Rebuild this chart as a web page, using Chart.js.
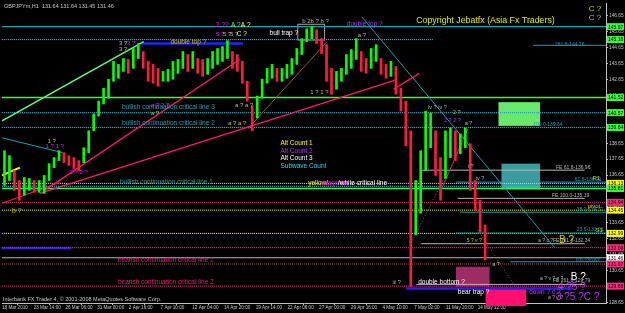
<!DOCTYPE html>
<html>
<head>
<meta charset="utf-8">
<script src="https://cdn.jsdelivr.net/npm/chart.js@4/dist/chart.umd.min.js"></script>
<style>
  html, body { margin: 0; padding: 0; background: #000; }
  #wrap { width: 625px; height: 313px; }
</style>
</head>
<body>
<div id="wrap"><canvas id="chart" width="625" height="313"></canvas></div>
<script>
/* --------------- Time axis (H1 bars) --------------------- */
const timeLabels = ['18 Mar 2010', '23 Mar 14:00', '26 Mar 06:00', '31 Mar 00:00', '2 Apr 16:00',
  '7 Apr 10:00', '12 Apr 04:00', '14 Apr 20:00', '19 Apr 14:00', '22 Apr 06:00', '27 Apr 00:00',
  '29 Apr 16:00', '4 May 10:00', '7 May 02:00', '11 May 20:00', '14 May 12:00'];
const barsPerLabel = 64;
const lastBar = 1219;

/* --------------- Price axis --------------------- */
const priceTicks = [128.65, 129.65, 130.65, 131.65, 132.65, 133.65, 134.65, 135.65, 136.65,
  137.65, 138.65, 139.65, 140.65, 141.65, 142.65, 143.65, 144.65, 145.65, 146.65];
const priceMin = 128.62;
const priceMax = 147.40;

/* --------------- GBPJPY bars, one per 10 hours: low / high --------------------- */
const candleLow = [136.00, 136.31, 135.69, 135.07, 135.38, 135.69, 135.57, 135.57, 135.50, 136.31,
  137.12, 137.56, 137.43, 137.25, 137.06, 136.94, 137.43, 138.06, 139.43, 140.36,
  141.11, 141.48, 142.54, 142.73, 143.16, 143.04, 143.35, 143.97, 143.35, 142.54,
  142.42, 142.23, 142.54, 142.54, 142.67, 143.04, 143.35, 143.16, 143.35, 143.04,
  142.85, 142.98, 143.35, 143.60, 143.79, 143.97, 143.35, 143.16, 142.42, 141.30,
  139.43, 140.24, 141.48, 142.42, 142.73, 142.54, 142.54, 142.73, 142.98, 143.60,
  144.22, 145.03, 145.22, 144.91, 144.28, 142.54, 141.73, 142.04, 142.54, 142.98,
  143.35, 143.91, 143.16, 143.04, 143.35, 143.79, 142.98, 142.73, 142.85, 141.73,
  140.67, 138.49, 129.65, 132.89, 134.26, 136.94, 138.37, 136.63, 135.07, 136.44,
  137.75, 137.56, 137.99, 138.37, 135.69, 134.45, 133.08, 131.33];
const candleHigh = [138.18, 137.87, 136.94, 136.31, 136.50, 136.44, 136.31, 136.31, 136.63, 137.37,
  137.75, 138.18, 138.06, 137.87, 137.75, 137.56, 138.37, 139.43, 140.49, 141.30,
  142.10, 142.67, 143.79, 143.60, 143.97, 143.91, 144.60, 144.91, 144.41, 143.79,
  143.60, 143.35, 143.16, 143.29, 143.79, 143.91, 144.41, 144.22, 144.41, 143.97,
  143.91, 143.97, 144.41, 144.60, 144.72, 145.09, 144.41, 144.22, 143.79, 142.54,
  140.98, 141.61, 142.67, 143.35, 143.60, 143.35, 143.35, 143.60, 143.97, 144.60,
  145.22, 145.84, 145.97, 145.78, 145.22, 144.84, 143.35, 143.16, 143.35, 144.22,
  144.53, 145.22, 144.41, 143.97, 144.60, 144.84, 143.97, 143.60, 143.79, 143.47,
  142.10, 141.30, 139.43, 136.31, 138.18, 140.67, 140.55, 139.43, 137.75, 139.43,
  139.61, 139.43, 139.24, 139.61, 138.62, 136.31, 135.07, 133.51];
const barsPerCandle = 10;

/* --------------- Horizontal levels: price, first bar, last bar --------------------- */
const levelPrice = [145.97, 145.16, 144.80, 144.91, 141.52, 140.57, 139.64, 136.96, 136.21, 136.13,
  135.95, 135.81, 135.19, 134.94, 134.45, 134.32, 133.01, 132.99, 132.34, 132.09,
  131.46, 131.21, 131.07, 129.79, 129.68, 129.53, 132.08];
const levelFrom = [0, 0, 1072, 282, 0, 0, 0, 846, 916, 0,
  0, 0, 920, 0, 0, 924, 916, 0, 846, 0,
  0, 1026, 0, 836, 0, 816, 0];
const levelTo = [1219, 872, 1219, 486, 1219, 1219, 1219, 1176, 1219, 1219,
  1219, 1219, 1176, 1219, 1219, 1219, 1219, 1219, 1176, 1219,
  1219, 1219, 1219, 1176, 1219, 1150, 140];

/* --------------- Trend lines: [bar, price] -> [bar, price] --------------------- */
const trendStart = [[0, 140.05], [86, 135.69], [76, 135.50], [726, 146.59], [496, 139.55], [790, 142.04],
  [0, 136.63], [0, 138.99], [826, 132.39], [960, 133.20], [886, 135.69], [0, 134.88]];
const trendEnd = [[286, 145.03], [480, 143.91], [792, 142.60], [1116, 132.08], [656, 145.03], [842, 143.04],
  [36, 137.12], [122, 138.06], [890, 136.31], [1036, 129.65], [940, 139.55], [116, 136.19]];

/* --------------- Zones: bar from, bar to, price low, price high --------------------- */
const zones = [[1002, 1086, 139.74, 141.23], [1008, 1086, 135.75, 137.37], [916, 984, 129.65, 130.90],
  [976, 1058, 128.40, 129.59], [596, 650, 145.16, 146.15]];

/* --------------- Price tags on the right axis --------------------- */
const tagPrice = [145.97, 145.16, 141.52, 140.57, 139.64, 136.13, 135.81, 134.94, 134.45, 132.99, 132.09, 131.46, 131.07, 129.68];

/* --------------- Styles --------------------- */
const TEAL = '#1f9fb4', MAG = '#e0207a', YEL = '#e8e800', GRN = '#33ff33', GRY = '#b8b8b8', VIO = '#c030ff';
const levelLook = [
  [TEAL, [], 1.2], [TEAL, [1, 1], 1.2], [TEAL, [], 1], ['#2222ff', [], 2.5], [GRN, [], 1.5],
  [TEAL, [1, 1], 1.2], [TEAL, [1, 1], 1.2], [GRY, [], 1], [TEAL, [], 1], [YEL, [1, 1], 1],
  ['#30c8e0', [1, 1], 1], [GRN, [], 1.5], [GRY, [], 1], [MAG, [1, 1], 1], [YEL, [1, 1], 1],
  [TEAL, [], 1], [TEAL, [], 1], [YEL, [1, 1], 1], [GRY, [], 1], [MAG, [1, 1], 1],
  [GRY, [], 1], [TEAL, [], 1], ['#a0522d', [1, 1], 1], [GRY, [], 1], [MAG, [1, 1], 1],
  ['#2222ff', [], 2.5], ['#2222ff', [], 2.5]];
const trendLook = [
  ['#5cff84', [], 1.5], ['#ff1a70', [], 1.3], ['#ff1a70', [], 1.3], [TEAL, [], 1], ['#a0522d', [], 1], ['#ff1a70', [], 1.3],
  ['#ffff00', [], 2], [TEAL, [], 1], ['#a0522d', [1, 2], 1], ['#a0522d', [1, 2], 1], ['#c03070', [], 1], ['#ff1a70', [], 1]];
const zoneLook = [['#6ae86a', null], ['#3b9c9c', null], ['#9c2c64', null], ['#ff1070', null], [null, '#a0a0a0']];
const tagLook = [GRN, GRN, GRN, GRN, GRN, '#ffff00', GRN, '#ff2a7a', '#ffff00', '#ffff00', '#ff2a7a', '#ffffff', '#ff2a7a', '#ff2a7a'];

/* --------------- Chart notes: bar, price, text, colour, size --------------------- */
const notes = [
  [836, 146.34, 'Copyright Jebatfx (Asia Fx Traders)', YEL, 8.8],
  [1184, 147.09, 'C ?', '#d4d400', 8], [1184, 146.53, 'C ?', GRY, 8],
  [696, 146.15, 'double top ?', VIO, 6.5], [340, 144.97, 'double top ?', '#c8c800', 6.5],
  [540, 145.53, 'bull trap ?', '#ffffff', 6.5],
  [432, 146.03, '2 ?', '#ff00ff', 6.5], [450, 146.03, '?', '#ff00ff', 6.5], [462, 146.03, 'A ?', '#66ff66', 6.5], [482, 146.03, 'A ?', '#ffff66', 6.5],
  [432, 145.47, '5 ?', '#ff00ff', 6], [446, 145.47, '5 ?', GRY, 6], [460, 145.47, '5 ?', GRY, 6], [474, 145.47, 'C ?', '#ffff66', 6.5],
  [236, 144.91, '3 ?', GRY, 6], [252, 144.91, '3 ?', '#ff00ff', 6], [236, 144.53, '3 ?', '#c8c800', 6],
  [606, 146.28, 'b 2b ? b ?', GRY, 6], [718, 145.41, 'a ?', GRY, 6],
  [622, 141.86, '1 ? 1 ?', GRY, 6],
  [300, 141.05, 'a ? 2 ?', '#ff00ff', 6], [300, 140.55, 'a ?', '#c8c800', 6],
  [470, 141.05, 'a ? a ?', GRY, 6], [456, 139.93, 'a ? a ?', '#c8c800', 6],
  [92, 138.80, '1 ?', '#c8c800', 6], [88, 138.43, '1 ? 1 ?', VIO, 6],
  [136, 136.81, '2 ? 2 ?', '#ff00ff', 6],
  [20, 134.38, 'b ?', '#c8c800', 7],
  [242, 140.92, 'bullish continuation critical line 3', TEAL, 6.5],
  [242, 139.93, 'bullish continuation critical line 2', TEAL, 6.5],
  [238, 136.19, 'bullish continuation critical line 1', TEAL, 6.5],
  [234, 131.33, 'bearish continuation critical line 1', MAG, 6.5],
  [234, 129.90, 'bearish continuation critical line 2', MAG, 6.5],
  [562, 138.68, 'Alt Count 1', '#ffff00', 6.5], [562, 138.18, 'Alt Count 2', VIO, 6.5],
  [562, 137.68, 'Alt Count 3', '#ffffff', 6.5], [562, 137.19, 'Subwave Count', '#30d0ff', 6.5],
  [618, 136.13, 'yellow/', '#ffff00', 6.5], [646, 136.13, 'magenta', '#ff00ff', 6.5], [678, 136.13, '/white critical line', '#ffffff', 6.5],
  [860, 140.92, 'iv ? iv ?', GRY, 5.5], [910, 140.55, '2 ?', '#c8c800', 5.5], [892, 140.05, '2 ? 2 ?', VIO, 5.5], [934, 139.87, 'a ?', GRY, 5.5],
  [940, 137.19, 'i ?', GRY, 5.5], [956, 136.44, 'iv ?', GRY, 5.5],
  [788, 129.90, 'iii ?', GRY, 5.5], [840, 129.90, 'double bottom ?', '#ffffff', 6.5],
  [920, 129.28, 'bear trap ?', '#ffffff', 6.5],
  [1064, 129.28, 'down ? c ?', VIO, 6.5],
  [1122, 129.59, '4 ?5 ?', VIO, 10], [1102, 128.97, 'a ? v ?', GRY, 5], [1118, 128.97, '3 ?5 ?C ?', VIO, 10],
  [1082, 132.52, 'a ? c ?', GRY, 5], [1124, 132.58, 'B ?', '#d4d400', 10],
  [1086, 130.15, 'a ? v ? c ?', GRY, 5], [1148, 130.21, 'B ?', '#ffffff', 10],
  [938, 132.52, '5 ? v ?', '#c8c800', 5], [990, 131.02, 'a ?', GRY, 5],
  [1116, 144.85, '261.8-144.76', TEAL, 5], [1072, 139.80, '100.0-139.64', TEAL, 5],
  [1118, 137.12, 'FE 61.8-136.96', GRY, 5], [1156, 136.38, '61.8-136.21', TEAL, 5], [1192, 136.44, 'R1', '#d4d400', 6],
  [1110, 135.38, 'FE 100.0-135.19', GRY, 5], [1160, 134.51, '38.2-134.32', TEAL, 5], [1182, 134.70, 'pivot', '#d4d400', 6],
  [1160, 133.20, '23.6-133.01', TEAL, 5], [1198, 133.20, 'S1', '#d4d400', 6],
  [1112, 132.52, 'FE 161.8-132.34', GRY, 5], [1158, 131.27, '0.0-130.87', TEAL, 5],
  [1112, 130.02, 'FE 261.8-129.79', GRY, 5]
];

/* --------------- Build datasets --------------------- */
const candleData = candleLow.map((lo, i) => ({ x: i * barsPerCandle + 5, y: [lo, candleHigh[i]] }));
const candleColors = candleLow.map((lo, i) => {
  if (i === 0) return '#00ff00';
  const mid = (lo + candleHigh[i]) / 2;
  const prev = (candleLow[i - 1] + candleHigh[i - 1]) / 2;
  return mid >= prev ? '#00ff00' : '#ff1a40';
});

const datasets = [{
  type: 'bar',
  data: candleData,
  backgroundColor: candleColors,
  barThickness: 2,
  order: 0,
}];

levelPrice.forEach((p, i) => {
  datasets.push({
    type: 'line',
    data: [{ x: levelFrom[i], y: p }, { x: levelTo[i], y: p }],
    borderColor: levelLook[i][0],
    borderDash: levelLook[i][1],
    borderWidth: levelLook[i][2],
    pointRadius: 0,
    order: 2,
  });
});

trendStart.forEach((s, i) => {
  datasets.push({
    type: 'line',
    data: [{ x: s[0], y: s[1] }, { x: trendEnd[i][0], y: trendEnd[i][1] }],
    borderColor: trendLook[i][0],
    borderDash: trendLook[i][1],
    borderWidth: trendLook[i][2],
    pointRadius: 0,
    order: 1,
  });
});

/* --------------- Extra drawing: zones, notes, price tags --------------------- */
const FONT = '"Liberation Sans", Arial, sans-serif';
const mtPlugin = {
  id: 'mtExtras',
  beforeDraw(chart) {
    const ctx = chart.ctx;
    ctx.save();
    ctx.fillStyle = '#000';
    ctx.fillRect(0, 0, chart.width, chart.height);
    ctx.restore();
  },
  beforeDatasetsDraw(chart) {
    const { ctx, scales: { x, y }, chartArea } = chart;
    ctx.save();
    ctx.beginPath();
    ctx.rect(chartArea.left, chartArea.top, chartArea.right - chartArea.left, chartArea.bottom - chartArea.top + 3);
    ctx.clip();
    zones.forEach((z, i) => {
      const x0 = x.getPixelForValue(z[0]), x1 = x.getPixelForValue(z[1]);
      const y0 = y.getPixelForValue(z[3]), y1 = y.getPixelForValue(z[2]);
      if (zoneLook[i][0]) {
        ctx.fillStyle = zoneLook[i][0];
        ctx.fillRect(x0, y0, x1 - x0, y1 - y0);
      }
      if (zoneLook[i][1]) {
        ctx.strokeStyle = zoneLook[i][1];
        ctx.lineWidth = 1;
        ctx.strokeRect(x0 + 0.5, y0 + 0.5, x1 - x0, y1 - y0);
      }
    });
    ctx.restore();
  },
  afterDatasetsDraw(chart) {
    const { ctx, scales: { x, y }, chartArea } = chart;
    ctx.save();
    ctx.textBaseline = 'middle';
    notes.forEach(n => {
      ctx.font = n[4] + 'px ' + FONT;
      ctx.fillStyle = n[3];
      ctx.fillText(n[2], x.getPixelForValue(n[0]), y.getPixelForValue(n[1]));
    });
    // header and footer
    ctx.font = '5.5px ' + FONT;
    ctx.fillStyle = '#c8c8c8';
    ctx.fillText('GBPJPYm,H1  131.64 131.64 131.45 131.46', chartArea.left + 2, chartArea.top + 3);
    ctx.fillText('Interbank FX Trader 4, \u00a9 2001-2008 MetaQuotes Software Corp.', chartArea.left + 1, chartArea.bottom - 4);
    // price tags
    ctx.font = '5px ' + FONT;
    tagPrice.forEach((p, i) => {
      const py = y.getPixelForValue(p);
      ctx.fillStyle = tagLook[i];
      ctx.fillRect(chartArea.right + 1, py - 3.5, 17, 7);
      ctx.fillStyle = '#000';
      ctx.fillText(p.toFixed(2), chartArea.right + 2, py + 0.5);
    });
    ctx.restore();
  }
};

new Chart(document.getElementById('chart'), {
  type: 'bar',
  data: { datasets },
  plugins: [mtPlugin],
  options: {
    responsive: false,
    animation: false,
    events: [],
    layout: { padding: { left: 2, top: 2, right: 0, bottom: 0 } },
    plugins: { legend: { display: false }, tooltip: { enabled: false } },
    scales: {
      x: {
        type: 'linear',
        min: 0,
        max: lastBar,
        offset: false,
        grid: { display: true, drawOnChartArea: false, color: '#c0c0c0', tickLength: 2 },
        border: { color: '#c0c0c0' },
        afterBuildTicks: s => { s.ticks = timeLabels.map((t, i) => ({ value: i * barsPerLabel })); },
        afterFit: s => { s.height = 10; },
        ticks: {
          autoSkip: false,
          maxRotation: 0,
          align: 'start',
          padding: 0,
          color: '#c8c8c8',
          font: { size: 4.6, family: 'Liberation Sans' },
          callback: (v, i) => timeLabels[i],
        },
      },
      y: {
        position: 'right',
        min: priceMin,
        max: priceMax,
        grid: { display: true, drawOnChartArea: false, color: '#c0c0c0', tickLength: 2 },
        border: { color: '#c0c0c0' },
        afterBuildTicks: s => { s.ticks = priceTicks.map(v => ({ value: v })); },
        afterFit: s => { s.width = 19; },
        ticks: {
          padding: 1,
          color: '#c8c8c8',
          font: { size: 4.8, family: 'Liberation Sans' },
          callback: v => v.toFixed(2),
        },
      },
    },
  },
});
</script>
</body>
</html>
